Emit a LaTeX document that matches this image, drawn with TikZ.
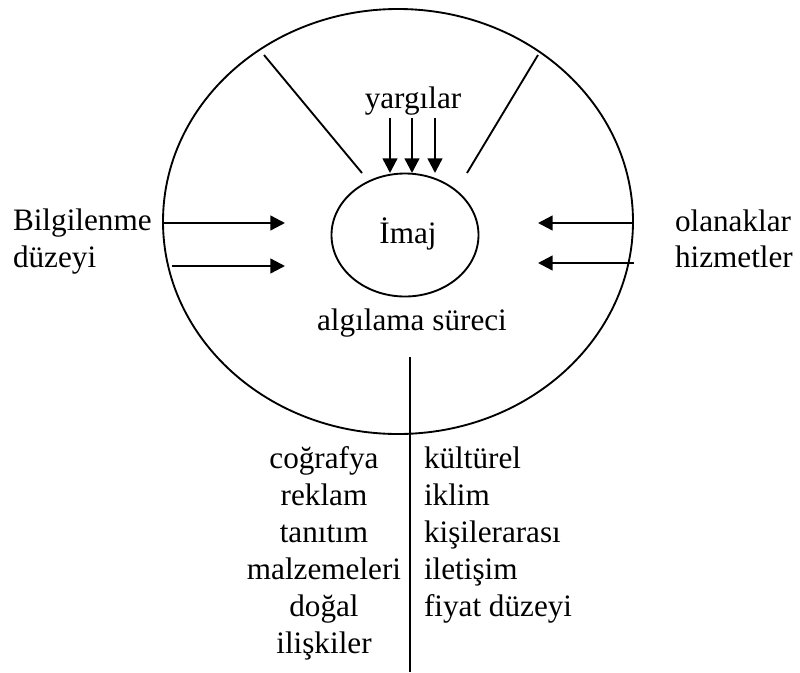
\documentclass[tikz,border=0pt]{standalone}
\usepackage{fontspec}
\setmainfont{Liberation Serif}
\usetikzlibrary{shapes.geometric,arrows.meta}
\begin{document}
\begin{tikzpicture}[x=0.75pt,y=-0.75pt,
  every node/.style={font=\fontsize{23.4pt}{27.75pt}\selectfont, inner sep=0pt, outer sep=0pt},
  oval/.style={ellipse, draw, line width=1.4pt},
  plain/.style={line width=1.4pt},
  arr/.style={line width=1.8pt, -{Triangle[length=11pt,width=11pt]}},
  lbl/.style={anchor=base},
  lblw/.style={anchor=base west}
]
\useasboundingbox (0,0) rectangle (800,672);

% outer and inner ellipses
\node[oval, minimum width=352.5pt, minimum height=318.75pt] (outer) at (398,221.5) {};
\node[oval, minimum width=110.25pt, minimum height=92.25pt] (inner) at (405,235) {};

% labels inside the outer ellipse
\node[lbl] (yargi) at (413,108) {yargılar};
\node[lbl] (imaj) at (408,243) {İmaj};
\node[lbl] (surec) at (412,330) {algılama süreci};

% slanted separators
\coordinate (ls1) at (264,55);  \coordinate (ls2) at (362,173);
\coordinate (rs1) at (538,55);  \coordinate (rs2) at (467,173);
\draw[plain] (ls1) -- (ls2);
\draw[plain] (rs1) -- (rs2);

% arrows from "yargılar"
\foreach \i/\x in {1/390,2/412,3/435}{
  \coordinate (ya\i) at (\x,118);
  \coordinate (yb\i) at (\x,173);
  \draw[arr] (ya\i) -- (yb\i);
}

% left side
\node[lblw] (bilg) at (13,230) {Bilgilenme};
\node[lblw] (duz) at (13,267) {düzeyi};
\coordinate (la1) at (163,223);  \coordinate (lb1) at (285,223);
\coordinate (la2) at (172,266);  \coordinate (lb2) at (285,266);
\draw[arr] (la1) -- (lb1);
\draw[arr] (la2) -- (lb2);

% right side
\node[lblw] (olan) at (675,231) {olanaklar};
\node[lblw] (hizm) at (675,267) {hizmetler};
\coordinate (ra1) at (633,223);  \coordinate (rb1) at (538,223);
\coordinate (ra2) at (634,263);  \coordinate (rb2) at (538,263);
\draw[arr] (ra1) -- (rb1);
\draw[arr] (ra2) -- (rb2);

% dividing line below
\coordinate (vt) at (410,357);
\coordinate (vb) at (410,672);
\draw[plain] (vt) -- (vb);

% two columns of factors
\foreach \i/\y/\t in {1/468/coğrafya,2/505/reklam,3/542/tanıtım,4/579/malzemeleri,5/616/doğal,6/653/ilişkiler}{
  \node[lbl] (lc\i) at (324,\y) {\t};
}
\foreach \i/\y/\t in {1/468/kültürel,2/505/iklim,3/542/kişilerarası,4/579/iletişim,5/616/fiyat düzeyi}{
  \node[lblw] (rc\i) at (424,\y) {\t};
}
\end{tikzpicture}
\end{document}
